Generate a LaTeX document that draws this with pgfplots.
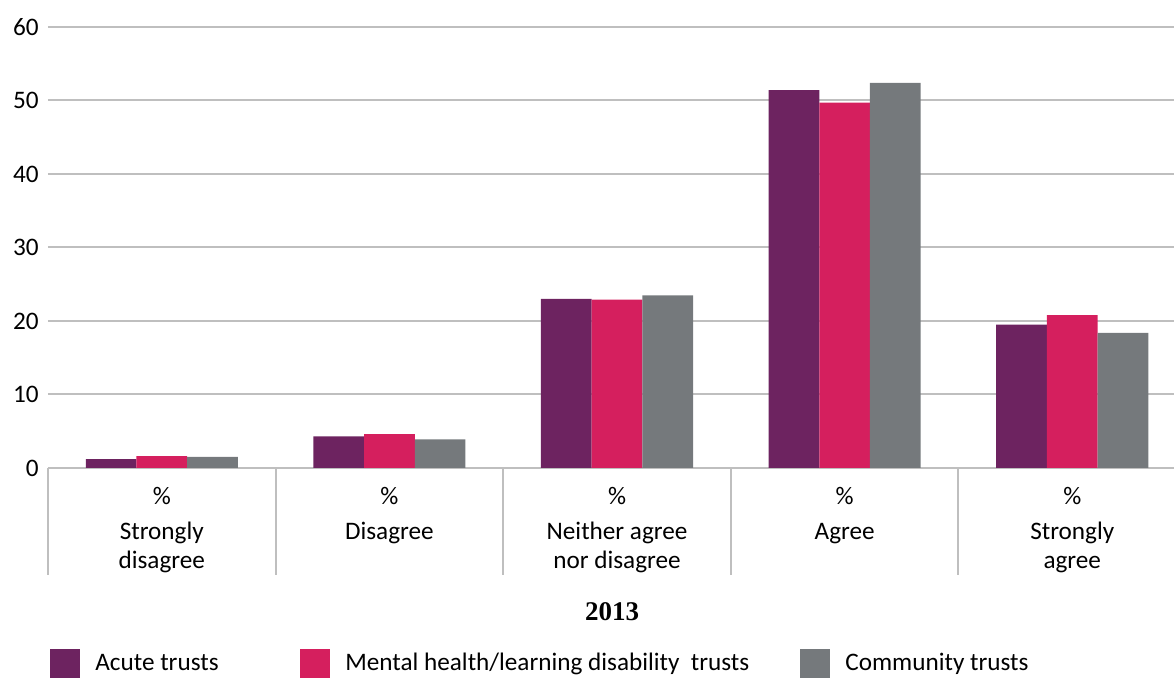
\documentclass[border=0pt]{standalone}
\usepackage{fontspec}
\setmainfont{Carlito}
\newfontfamily\yearfont{Liberation Serif}
\usepackage{pgfplots}
\pgfplotsset{compat=1.18}
\definecolor{acute}{HTML}{6D2360}
\definecolor{mental}{HTML}{D51F5E}
\definecolor{community}{HTML}{75797C}
\definecolor{gridgray}{HTML}{BFBFBF}

\begin{document}
\begin{tikzpicture}
\begin{axis}[
  at={(24pt,105pt)}, anchor=south west,
  scale only axis, width=563pt, height=220.5pt,
  xmin=-0.5, xmax=4.447, ymin=0, ymax=60,
  clip=false,
  ytick={0,10,...,60},
  xtick={0,1,2,3,4},
  xticklabels={{\%\\[3pt]Strongly\\disagree},{\%\\[3pt]Disagree},{\%\\[3pt]Neither agree\\nor disagree},{\%\\[3pt]Agree},{\%\\[3pt]Strongly\\agree}},
  extra x ticks={-0.5,0.5,1.5,2.5,3.5},
  extra x tick labels={},
  extra x tick style={major tick length=53.5pt, tick align=outside},
  major tick length=0pt,
  xtick pos=bottom, ytick pos=left,
  tick style={draw=gridgray, line width=1pt},
  axis line style={draw=none},
  ymajorgrids, grid style={draw=gridgray, line width=1pt},
  /pgf/number format/assume math mode=true,
  every tick label/.append style={font=\fontsize{12.6}{14.5}\selectfont},
  xticklabel style={align=center, inner sep=0pt, anchor=north, yshift=-9.5pt},
  yticklabel style={inner sep=0pt, anchor=east, xshift=-4.5pt},
  ybar, bar width=0.2227,
  legend columns=3,
  legend style={at={(0,0)}, anchor=west, xshift=1pt, yshift=-97.75pt,
    draw=none, inner sep=0pt, font=\fontsize{12.6}{14.5}\selectfont,
    nodes={inner sep=0pt},
    /tikz/every odd column/.append style={column sep=7.5pt}},
  legend cell align=left,
]
\addplot[fill=acute, draw=none, bar shift=-0.2227,
  legend image code/.code={\fill[acute] (0pt,-7.25pt) rectangle (15pt,7.25pt);}] coordinates {
  (0, 1.2) (1, 4.3) (2, 23.0) (3, 51.4) (4, 19.5)
};
\addplot[fill=mental, draw=none, bar shift=0,
  legend image code/.code={\fill[mental] (0pt,-7.25pt) rectangle (15pt,7.25pt);}] coordinates {
  (0, 1.6) (1, 4.6) (2, 22.9) (3, 49.7) (4, 20.8)
};
\addplot[fill=community, draw=none, bar shift=0.2227,
  legend image code/.code={\fill[community] (0pt,-7.25pt) rectangle (15pt,7.25pt);}] coordinates {
  (0, 1.5) (1, 3.9) (2, 23.5) (3, 52.4) (4, 18.4)
};
\addlegendentry{\makebox[102.5pt][l]{Acute trusts}}
\addlegendentry{\makebox[227.5pt][l]{Mental health/learning disability\ \ trusts}}
\addlegendentry{Community trusts}
\node[font=\yearfont\bfseries\fontsize{13.5}{15}\selectfont] at ([yshift=-72pt]axis description cs:0.501,0) {2013};
\end{axis}
\pgfresetboundingbox
\useasboundingbox (0,0) rectangle (587pt,339pt);
\end{tikzpicture}
\end{document}
